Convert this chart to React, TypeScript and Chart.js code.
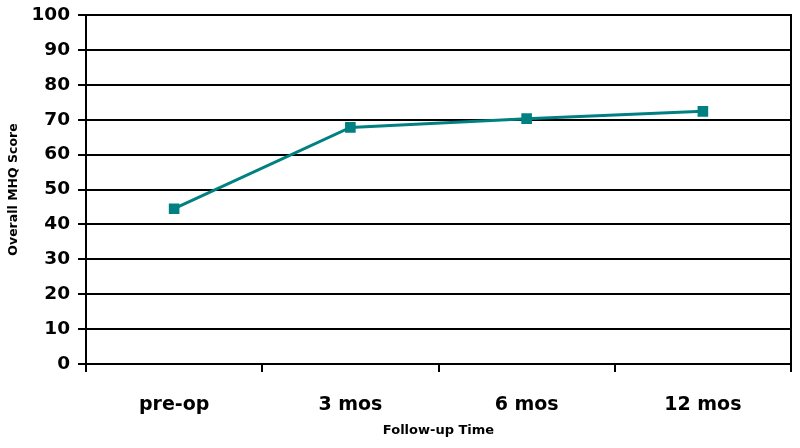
import React, { useEffect, useRef } from "react";
import { Chart, registerables } from "chart.js";

Chart.register(...registerables);

const categories = ["pre-op", "3 mos", "6 mos", "12 mos"];
const scores = [44.5, 67.8, 70.3, 72.4];
const yTitle = "Overall MHQ Score";
const xTitle = "Follow-up Time";

const FONT = "'DejaVu Sans', 'Liberation Sans', Arial, sans-serif";

const rightBorder = {
  id: "rightBorder",
  afterDraw(chart: any) {
    const { ctx, chartArea } = chart;
    ctx.save();
    ctx.strokeStyle = "#000";
    ctx.lineWidth = 2;
    ctx.beginPath();
    ctx.moveTo(chartArea.right, chartArea.top - 1);
    ctx.lineTo(chartArea.right, chartArea.bottom);
    ctx.stroke();
    ctx.restore();
  },
};

export default function App() {
  const ref = useRef<HTMLCanvasElement>(null);
  useEffect(() => {
    document.body.style.margin = "0";
    const chart = new Chart(ref.current!, {
      type: "line",
      data: {
        labels: categories,
        datasets: [
          {
            data: scores,
            borderColor: "#008080",
            backgroundColor: "#008080",
            borderWidth: 3,
            pointStyle: "rect",
            pointRadius: 7.5,
            pointBorderWidth: 0,
            tension: 0,
          },
        ],
      },
      options: {
        responsive: false,
        animation: false,
        layout: { padding: { top: 15, right: 9, left: 0, bottom: 0 } },
        plugins: { legend: { display: false }, tooltip: { enabled: false } },
        scales: {
          x: {
            offset: true,
            grid: {
              offset: true,
              drawOnChartArea: false,
              drawTicks: true,
              tickLength: 8,
              color: "#000",
              lineWidth: 2,
            },
            border: { display: true, color: "#000", width: 2 },
            ticks: {
              color: "#000",
              padding: 22,
              font: { family: FONT, size: 19, weight: "bold" },
            },
            title: {
              display: true,
              text: xTitle,
              color: "#000",
              padding: { top: 0, bottom: 10 },
              font: { family: FONT, size: 13, weight: "bold" },
            },
            afterFit(scale: any) {
              scale.height = 84;
              scale.paddingLeft = 0;
              scale.paddingRight = 0;
            },
          },
          y: {
            min: 0,
            max: 100,
            grid: {
              color: "#000",
              lineWidth: 2,
              drawTicks: true,
              tickLength: 8,
            },
            border: { display: true, color: "#000", width: 2 },
            ticks: {
              stepSize: 10,
              color: "#000",
              padding: 8,
              font: { family: FONT, size: 18.5, weight: "bold" },
            },
            title: {
              display: true,
              text: yTitle,
              color: "#000",
              padding: { top: 6, bottom: 0 },
              font: { family: FONT, size: 12.5, weight: "bold" },
            },
            afterFit(scale: any) {
              scale.width = 86;
              scale.paddingTop = 0;
              scale.paddingBottom = 0;
            },
          },
        },
      },
      plugins: [rightBorder],
    });
    return () => chart.destroy();
  }, []);
  return (
    <div style={{ width: 800, height: 448 }}>
      <canvas ref={ref} width={800} height={448} style={{ display: "block" }} />
    </div>
  );
}
